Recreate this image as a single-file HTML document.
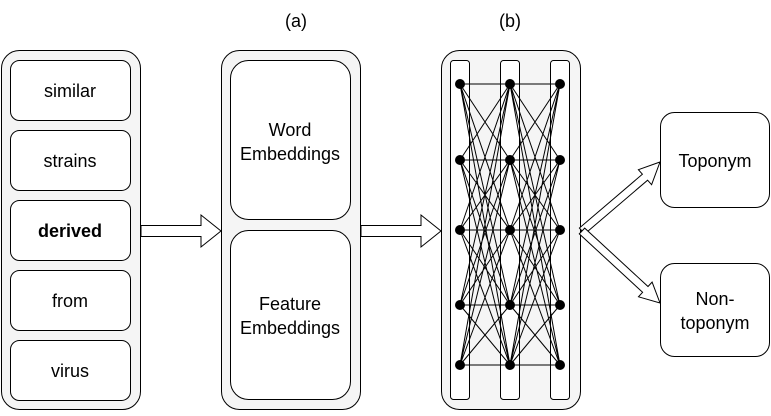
<!DOCTYPE html>
<html><head><style>
body{margin:0;background:#fff;width:771px;height:411px;overflow:hidden}
svg text{font-family:"Liberation Sans",sans-serif;font-size:18px;fill:#000}
</style></head><body>
<svg width="771" height="411" viewBox="0 0 771 411" xmlns="http://www.w3.org/2000/svg">
<text x="296" y="27" text-anchor="middle">(a)</text>
<text x="510" y="27" text-anchor="middle">(b)</text>
<g stroke="#000" stroke-width="1" fill="#f5f5f5">
<rect x="1.5" y="50.5" width="139" height="359" rx="18"/>
<rect x="221.5" y="50.5" width="139" height="359" rx="18"/>
<rect x="441.5" y="50.5" width="139" height="359" rx="18"/>
</g>
<g stroke="#000" fill="#fff">
<rect x="10.5" y="60.5" width="120" height="60" rx="9"/>
<rect x="10.5" y="130.5" width="120" height="60" rx="9"/>
<rect x="10.5" y="200.5" width="120" height="60" rx="9"/>
<rect x="10.5" y="270.5" width="120" height="60" rx="9"/>
<rect x="10.5" y="340.5" width="120" height="60" rx="9"/>
<rect x="230.5" y="60.5" width="120" height="159" rx="18"/>
<rect x="230.5" y="230.5" width="120" height="169" rx="18"/>
<rect x="660.5" y="112.5" width="109" height="95" rx="14"/>
<rect x="660.5" y="263.5" width="109" height="93" rx="14"/>
<rect x="450.5" y="60.5" width="19" height="339" rx="3"/>
<rect x="500.5" y="60.5" width="19" height="339" rx="3"/>
<rect x="550.5" y="60.5" width="19" height="339" rx="3"/>
</g>
<g text-anchor="middle">
<text x="70" y="97">similar</text>
<text x="70" y="167">strains</text>
<text x="70" y="237" font-weight="bold">derived</text>
<text x="70" y="307">from</text>
<text x="70" y="377">virus</text>
<text x="290" y="136">Word</text>
<text x="290" y="160">Embeddings</text>
<text x="290" y="310">Feature</text>
<text x="290" y="334">Embeddings</text>
<text x="715" y="167">Toponym</text>
<text x="715" y="305">Non-</text>
<text x="715" y="329">toponym</text>
</g>
<g stroke="#000" fill="#fff">
<path d="M141 225.5 H201 V215 L221 231 L201 247 V236.5 H141 Z"/>
<path d="M361 225.5 H421 V215 L441 231 L421 247 V236.5 H361 Z"/>
<path d="M584.6 234 L647.6 180.2 L651.6 184.7 L660 162 L638.4 169.7 L642.4 174.2 L579.4 228 Z"/>
<path d="M579.3 233.9 L642.6 292.3 L638.5 296.8 L660 303 L652.1 282.1 L648 286.5 L584.7 228.1 Z"/>
</g>
<path stroke="#000" stroke-width="1" fill="none" d="
M460 84 L510 84 M460 84 L510 160 M460 84 L510 230 M460 84 L510 305 M460 84 L510 365
M460 160 L510 84 M460 160 L510 160 M460 160 L510 230 M460 160 L510 305 M460 160 L510 365
M460 230 L510 84 M460 230 L510 160 M460 230 L510 230 M460 230 L510 305 M460 230 L510 365
M460 305 L510 84 M460 305 L510 160 M460 305 L510 230 M460 305 L510 305 M460 305 L510 365
M460 365 L510 84 M460 365 L510 160 M460 365 L510 230 M460 365 L510 305 M460 365 L510 365
M510 84 L560 84 M510 84 L560 160 M510 84 L560 230 M510 84 L560 305 M510 84 L560 365
M510 160 L560 84 M510 160 L560 160 M510 160 L560 230 M510 160 L560 305 M510 160 L560 365
M510 230 L560 84 M510 230 L560 160 M510 230 L560 230 M510 230 L560 305 M510 230 L560 365
M510 305 L560 84 M510 305 L560 160 M510 305 L560 230 M510 305 L560 305 M510 305 L560 365
M510 365 L560 84 M510 365 L560 160 M510 365 L560 230 M510 365 L560 305 M510 365 L560 365"/>
<g fill="#000">
<circle cx="460" cy="84" r="5"/><circle cx="460" cy="160" r="5"/><circle cx="460" cy="230" r="5"/><circle cx="460" cy="305" r="5"/><circle cx="460" cy="365" r="5"/>
<circle cx="510" cy="84" r="5"/><circle cx="510" cy="160" r="5"/><circle cx="510" cy="230" r="5"/><circle cx="510" cy="305" r="5"/><circle cx="510" cy="365" r="5"/>
<circle cx="560" cy="84" r="5"/><circle cx="560" cy="160" r="5"/><circle cx="560" cy="230" r="5"/><circle cx="560" cy="305" r="5"/><circle cx="560" cy="365" r="5"/>
</g>
</svg>
</body></html>
